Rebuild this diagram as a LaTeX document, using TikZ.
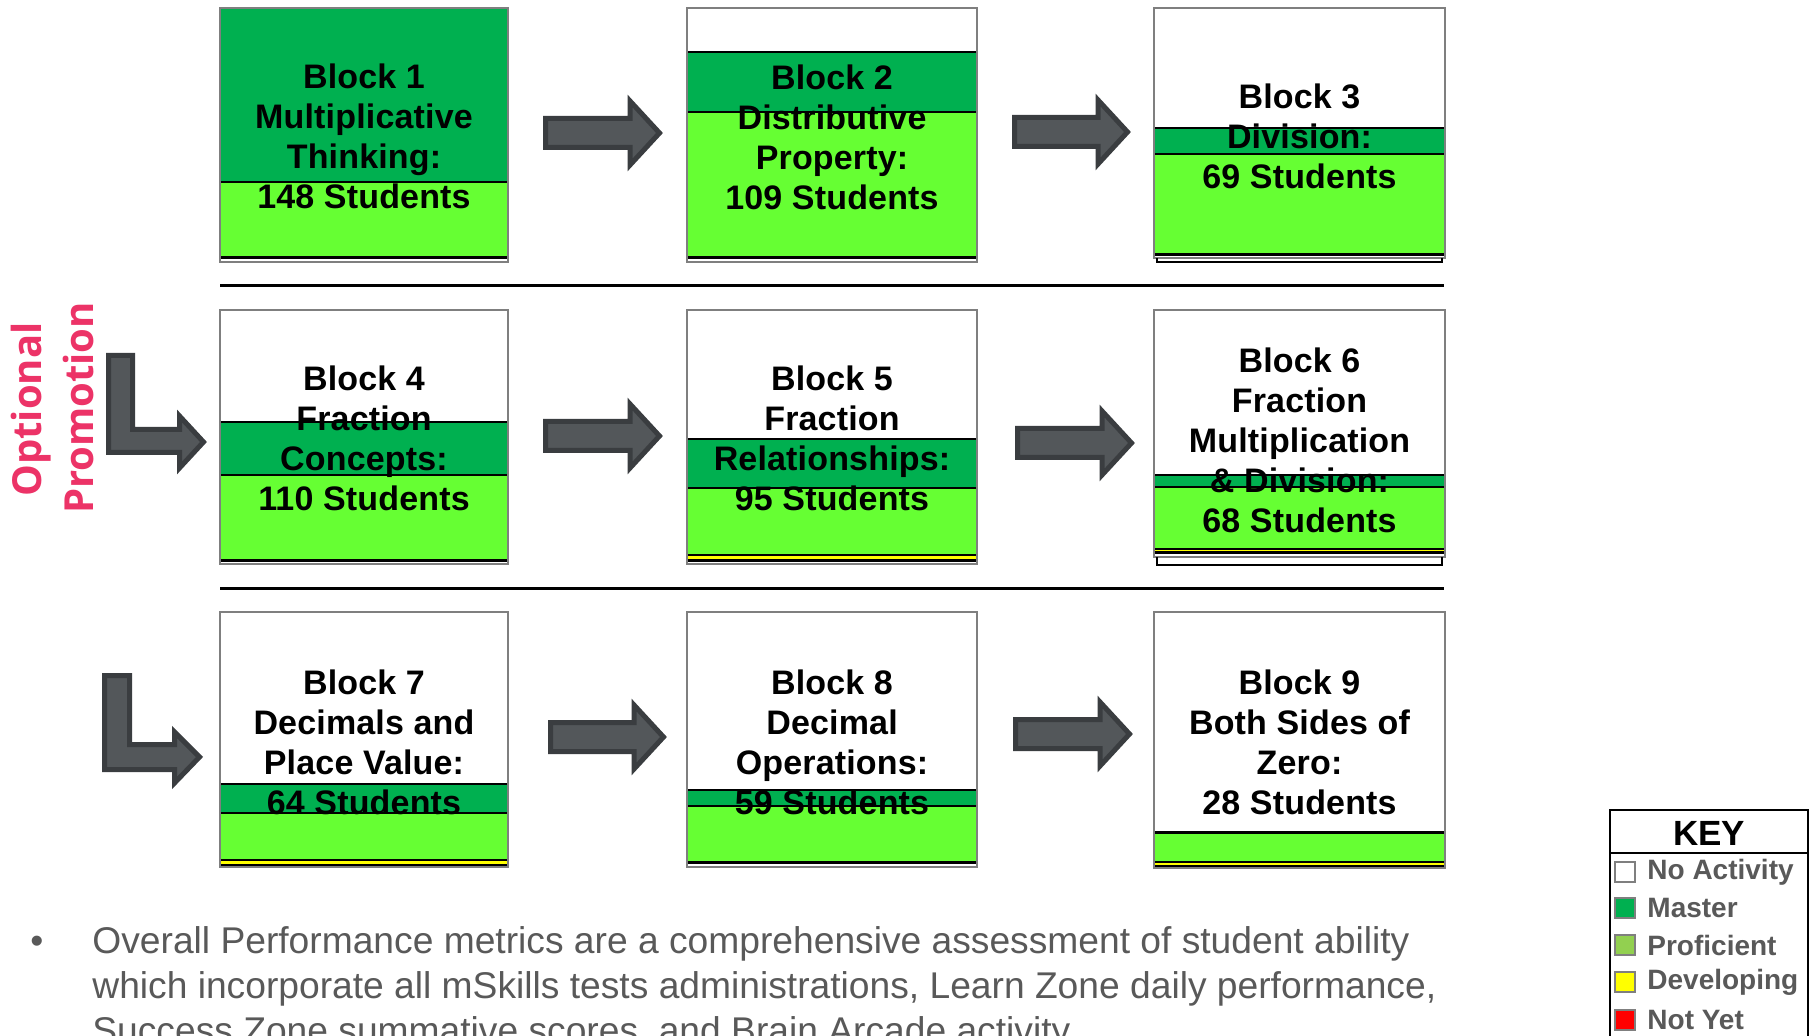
\documentclass[tikz,border=0pt]{standalone}
\usepackage{fontspec}
\setmainfont{Liberation Sans}
\newfontfamily\blockfont[LetterSpace=0.5]{Liberation Sans}
\newfontfamily\promofont{Open Sans}
\definecolor{master}{HTML}{00B050}
\definecolor{prof}{HTML}{66FF33}
\definecolor{keyprof}{HTML}{92D050}
\definecolor{devel}{HTML}{FFFF00}
\definecolor{notyet}{HTML}{FF0000}
\definecolor{framegray}{HTML}{7F7F7F}
\definecolor{arrfill}{HTML}{53575A}
\definecolor{arrdraw}{HTML}{3A3D40}
\definecolor{promopink}{HTML}{EC3367}
\definecolor{textgray}{HTML}{595959}
\tikzset{
  blocktext/.style={align=center, inner sep=0pt, font=\blockfont\bfseries\fontsize{17}{20}\selectfont},
  segline/.style={black, line width=0.8pt},
  bottomline/.style={black, line width=1.5pt},
  boxframe/.style={draw=framegray, line width=1pt},
  blockarrow/.style={fill=arrfill, draw=arrdraw, line width=2.5pt, line join=miter},
  sepline/.style={black, line width=1.5pt},
  keytext/.style={anchor=west, inner sep=0pt, text=textgray, font=\bfseries\fontsize{14}{16}\selectfont},
  keysq/.style={draw=framegray, line width=0.8pt},
  bullettext/.style={anchor=base west, inner sep=0pt, text=textgray, font=\fontsize{18.6}{22.5}\selectfont},
  promo/.style={rotate=90, anchor=base, inner sep=0pt, text=promopink, font=\promofont\bfseries\fontsize{20}{24}\selectfont}
}
\newcommand\segfill[5]{\fill[#5] (#1,#3) rectangle (#2,#4);}
\newcommand\segline[3]{\draw[segline] (#1,#3) -- (#2,#3);}
\newcommand\botline[3]{\draw[bottomline] (#1,#3) -- (#2,#3);}
\newcommand\rarr[3]{\draw[blockarrow] (#1+2.5,#3-14.5) -- (#2-33,#3-14.5) -- (#2-33,#3-32) -- (#2-3.5,#3) -- (#2-33,#3+32) -- (#2-33,#3+14.5) -- (#1+2.5,#3+14.5) -- cycle;}
\begin{document}
\begin{tikzpicture}[x=0.5pt,y=-0.5pt]
\useasboundingbox (0,0) rectangle (1813,1036);
\clip (0,0) rectangle (1813,1036);
\fill[white] (0,0) rectangle (1813,1036);

% ---------- Block 1
\segfill{220}{508}{8}{182}{master}
\segfill{220}{508}{182}{258}{prof}
\segline{220}{508}{182}
\botline{220}{508}{258}
\draw[boxframe] (220,8) rectangle (508,262);
\node[blocktext] (b1) at (364,136) {Block 1\\Multiplicative\\Thinking:\\148 Students};

% ---------- Block 2
\segfill{687}{977}{8}{52}{white}
\segfill{687}{977}{52}{112}{master}
\segfill{687}{977}{112}{258}{prof}
\segline{687}{977}{52}
\segline{687}{977}{112}
\botline{687}{977}{258}
\draw[boxframe] (687,8) rectangle (977,262);
\node[blocktext] (b2) at (832,137) {Block 2\\Distributive\\Property:\\109 Students};

% ---------- Block 3
\segfill{1154}{1445}{8}{128}{white}
\segfill{1154}{1445}{128}{154}{master}
\segfill{1154}{1445}{154}{255}{prof}
\segline{1154}{1445}{128}
\segline{1154}{1445}{154}
\botline{1154}{1445}{255}
\draw[boxframe] (1154,8) rectangle (1445,258);
\draw[segline] (1157,258) -- (1157,262) -- (1442,262) -- (1442,258);
\node[blocktext] (b3) at (1299.5,136) {Block 3\\Division:\\69 Students};

% ---------- Block 4
\segfill{220}{508}{310}{422}{white}
\segfill{220}{508}{422}{475}{master}
\segfill{220}{508}{475}{561}{prof}
\segline{220}{508}{422}
\segline{220}{508}{475}
\botline{220}{508}{561}
\draw[boxframe] (220,310) rectangle (508,564);
\node[blocktext] (b4) at (364,438) {Block 4\\Fraction\\Concepts:\\110 Students};

% ---------- Block 5
\segfill{687}{977}{310}{439}{white}
\segfill{687}{977}{439}{488}{master}
\segfill{687}{977}{488}{555}{prof}
\segfill{687}{977}{555}{561}{devel}
\segline{687}{977}{439}
\segline{687}{977}{488}
\segline{687}{977}{555}
\botline{687}{977}{561}
\draw[boxframe] (687,310) rectangle (977,564);
\node[blocktext] (b5) at (832,438) {Block 5\\Fraction\\Relationships:\\95 Students};

% ---------- Block 6
\segfill{1154}{1445}{310}{475}{white}
\segfill{1154}{1445}{475}{487}{master}
\segfill{1154}{1445}{487}{549}{prof}
\segfill{1154}{1445}{549}{553}{devel}
\segline{1154}{1445}{475}
\segline{1154}{1445}{487}
\segline{1154}{1445}{549}
\botline{1154}{1445}{553}
\draw[boxframe] (1154,310) rectangle (1445,557);
\draw[segline] (1157,557) -- (1157,565) -- (1442,565) -- (1442,557);
\node[blocktext] (b6) at (1299.5,440) {Block 6\\Fraction\\Multiplication\\\&~Division:\\68 Students};

% ---------- Block 7
\segfill{220}{508}{612}{784}{white}
\segfill{220}{508}{784}{813}{master}
\segfill{220}{508}{813}{860}{prof}
\segfill{220}{508}{860}{865}{devel}
\segline{220}{508}{784}
\segline{220}{508}{813}
\segline{220}{508}{860}
\botline{220}{508}{865}
\draw[boxframe] (220,612) rectangle (508,867);
\node[blocktext] (b7) at (364,742) {Block 7\\Decimals and\\Place Value:\\64 Students};

% ---------- Block 8
\segfill{687}{977}{612}{790}{white}
\segfill{687}{977}{790}{806}{master}
\segfill{687}{977}{806}{862}{prof}
\segline{687}{977}{790}
\segline{687}{977}{806}
\botline{687}{977}{862}
\draw[boxframe] (687,612) rectangle (977,867);
\node[blocktext] (b8) at (832,742) {Block 8\\Decimal\\Operations:\\59 Students};

% ---------- Block 9
\segfill{1154}{1445}{612}{832}{white}
\segfill{1154}{1445}{832}{862}{prof}
\segfill{1154}{1445}{862}{866}{devel}
\draw[black, line width=1.5pt] (1154,832) -- (1445,832);
\segline{1154}{1445}{862}
\botline{1154}{1445}{866}
\draw[boxframe] (1154,612) rectangle (1445,868);
\node[blocktext] (b9) at (1299.5,742) {Block 9\\Both Sides of\\Zero:\\28 Students};

% ---------- separators
\coordinate (s1l) at (220,286); \coordinate (s1r) at (1444,286);
\coordinate (s2l) at (220,589); \coordinate (s2r) at (1444,589);
\draw[sepline] (s1l) -- (s1r);
\draw[sepline] (s2l) -- (s2r);

% ---------- block arrows
\rarr{543}{663}{133}
\rarr{1012}{1131}{132}
\rarr{543}{663}{436}
\rarr{1015}{1135}{443}
\rarr{548}{667}{737}
\rarr{1013}{1133}{734}

% ---------- L arrows
\draw[blockarrow] (108.5,355.5) -- (132.5,355.5) -- (132.5,429.5) -- (179.5,429.5) -- (179.5,416) -- (203.5,442) -- (179.5,468) -- (179.5,452.5) -- (108.5,452.5) -- cycle;
\draw[blockarrow] (104.5,675.5) -- (129.5,675.5) -- (129.5,744.5) -- (174.5,744.5) -- (174.5,732) -- (199.5,757) -- (174.5,783) -- (174.5,769.5) -- (104.5,769.5) -- cycle;

% ---------- Optional Promotion
\node[promo] (opt) at (41,409.5) {Optional};
\node[promo] (prm) at (93,408) {Promotion};

% ---------- Key
\draw[black, line width=1pt] (1610,810) rectangle (1808,1100);
\draw[black, line width=1pt] (1610,853) -- (1808,853);
\node[inner sep=0pt, font=\bfseries\fontsize{17.5}{20}\selectfont] (key) at (1709,833) {KEY};
\draw[keysq, fill=white] (1615,862) rectangle (1635,882);
\node[keytext] (k1) at (1647,872) {No Activity};
\draw[keysq, fill=master] (1615,898) rectangle (1635,918);
\node[keytext] (k2) at (1647,908) {Master};
\draw[keysq, fill=keyprof] (1615,935) rectangle (1635,955);
\node[keytext] (k3) at (1647,945) {Proficient};
\draw[keysq, fill=devel] (1615,972) rectangle (1635,992);
\node[keytext] (k4) at (1647,982) {Developing};
\draw[keysq, fill=notyet] (1615,1010) rectangle (1635,1030);
\node[keytext] (k5) at (1647,1020) {Not Yet};

% ---------- bullet text
\node[bullettext] (bul) at (30,953) {•};
\node[bullettext] (l1) at (92,953) {Overall Performance metrics are a comprehensive assessment of student ability};
\node[bullettext] (l2) at (92,998) {which incorporate all mSkills tests administrations, Learn Zone daily performance,};
\node[bullettext] (l3) at (92,1043) {Success Zone summative scores, and Brain Arcade activity};
\end{tikzpicture}
\end{document}
